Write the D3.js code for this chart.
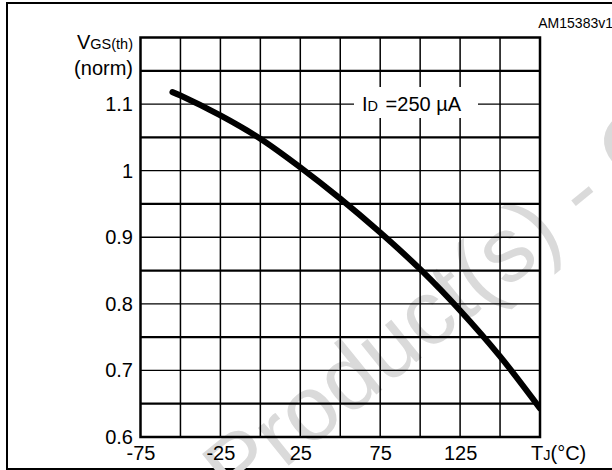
<!DOCTYPE html>
<html>
<head>
<meta charset="utf-8">
<script src="https://cdn.jsdelivr.net/npm/d3@7"></script>
<style>
  body { margin: 0; background: #fff; }
  text { font-family: "Liberation Sans", Arial, sans-serif; fill: #000; }
</style>
</head>
<body>
<div id="chart"></div>
<script>
// Chart data
// ==============================
var tempC = [-55, -50, -25, 0, 25, 50, 75, 100, 125, 150, 175];
var vthNorm = [1.118, 1.113, 1.083, 1.048, 1.005, 0.958, 0.907, 0.852, 0.790, 0.721, 0.643];
var xTickLabels = [-75, -25, 25, 75, 125];
var yTickLabels = [0.6, 0.7, 0.8, 0.9, 1, 1.1];

var svgWidth = 612;
var svgHeight = 470;

var margin = { top: 37.5, right: 72, bottom: 33, left: 140.5 };
var width = 540 - margin.left;
var height = 437 - margin.top;

var svg = d3.select("#chart")
  .append("svg")
  .attr("width", svgWidth)
  .attr("height", svgHeight);

// outer frame (right side runs off the picture)
svg.append("rect")
  .attr("x", 7)
  .attr("y", 3)
  .attr("width", 640)
  .attr("height", 466)
  .attr("fill", "none")
  .attr("stroke", "#000")
  .attr("stroke-width", 2);

// watermark
var wm = svg.append("g")
  .attr("transform", "translate(236, 508) rotate(-39)")
  .style("font-size", "92px");
wm.append("text").attr("text-anchor", "end").style("fill", "#dadada").text("Obsolete ");
wm.append("text").style("fill", "#dadada").text("Product(s) - Obsolete Product(s)");

svg.append("text")
  .attr("x", 613)
  .attr("y", 28)
  .attr("text-anchor", "end")
  .style("font-size", "14px")
  .text("AM15383v1");

var chartGroup = svg.append("g")
  .attr("transform", `translate(${margin.left}, ${margin.top})`);

// scales
// ==============================
var xLinearScale = d3.scaleLinear()
  .domain([-75, 175])
  .range([0, width]);

var yLinearScale = d3.scaleLinear()
  .domain([0.6, 1.2])
  .range([height, 0]);

// grid
// ==============================
chartGroup.selectAll(".vgrid")
  .data(d3.range(-50, 175, 25))
  .enter()
  .append("line")
  .attr("x1", d => xLinearScale(d))
  .attr("x2", d => xLinearScale(d))
  .attr("y1", 0)
  .attr("y2", height)
  .attr("stroke", "#000")
  .attr("stroke-width", 1.5);

chartGroup.selectAll(".hgrid")
  .data(d3.range(13).map(i => 0.6 + i * 0.05).filter((d, i) => i > 0 && i < 12))
  .enter()
  .append("line")
  .attr("x1", 0)
  .attr("x2", width)
  .attr("y1", d => yLinearScale(d))
  .attr("y2", d => yLinearScale(d))
  .attr("stroke", "#000")
  .attr("stroke-width", (d, i) => (i % 2 === 0 ? 2.2 : 1.4));

// annotation box
chartGroup.append("rect")
  .attr("x", 354 - margin.left)
  .attr("y", 87 - margin.top)
  .attr("width", 124)
  .attr("height", 31)
  .attr("fill", "#fff");

var idText = chartGroup.append("text")
  .attr("x", 362 - margin.left)
  .attr("y", yLinearScale(1.1) + 7)
  .style("font-size", "20px");
idText.append("tspan").text("I");
idText.append("tspan").style("font-size", "14.5px").text("D");
idText.append("tspan").attr("dx", 2).text(" =250 µA");

// curve
// ==============================
chartGroup.append("clipPath")
  .attr("id", "plotclip")
  .append("rect")
  .attr("width", width)
  .attr("height", height);

var line = d3.line()
  .x((d, i) => xLinearScale(tempC[i]))
  .y(d => yLinearScale(d))
  .curve(d3.curveCatmullRom);

chartGroup.append("path")
  .datum(vthNorm)
  .attr("d", line)
  .attr("clip-path", "url(#plotclip)")
  .attr("fill", "none")
  .attr("stroke", "#000")
  .attr("stroke-width", 6)
  .attr("stroke-linecap", "round");

// border
chartGroup.append("rect")
  .attr("width", width)
  .attr("height", height)
  .attr("fill", "none")
  .attr("stroke", "#000")
  .attr("stroke-width", 2.5);

// axes
// ==============================
var bottomAxis = d3.axisBottom(xLinearScale)
  .tickValues(xTickLabels)
  .tickSize(0)
  .tickPadding(9)
  .tickFormat(d => String(d));

var leftAxis = d3.axisLeft(yLinearScale)
  .tickValues(yTickLabels)
  .tickSize(0)
  .tickPadding(7.5)
  .tickFormat(d => String(d));

var xg = chartGroup.append("g")
  .attr("transform", `translate(0, ${height})`)
  .call(bottomAxis);

var yg = chartGroup.append("g")
  .call(leftAxis);

[xg, yg].forEach(function(g) {
  g.select(".domain").remove();
  g.selectAll("text")
    .attr("fill", "#000")
    .style("font-size", "20px")
    .style("font-family", "Liberation Sans, Arial, sans-serif");
});

// axis titles
var xTitle = svg.append("text")
  .attr("x", 531)
  .attr("y", 460)
  .style("font-size", "20px");
xTitle.append("tspan").text("T");
xTitle.append("tspan").style("font-size", "14.5px").text("J");
xTitle.append("tspan").text("(°C)");

var yTitle = svg.append("text")
  .attr("x", 133)
  .attr("y", 49)
  .attr("text-anchor", "end")
  .style("font-size", "20px");
yTitle.append("tspan").text("V");
yTitle.append("tspan").style("font-size", "14.5px").text("GS(th)");

svg.append("text")
  .attr("x", 133)
  .attr("y", 75)
  .attr("text-anchor", "end")
  .style("font-size", "20px")
  .text("(norm)");
</script>
</body>
</html>
